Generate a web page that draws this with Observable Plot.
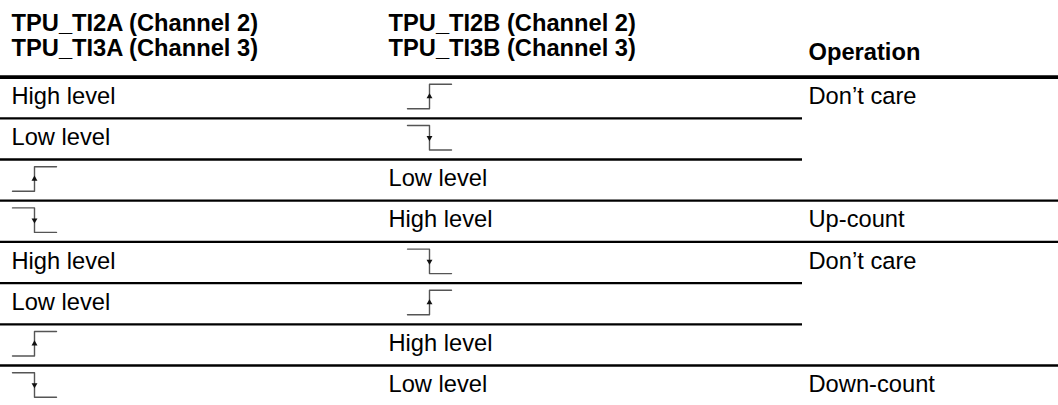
<!DOCTYPE html>
<html><head><meta charset="utf-8">
<script src="https://cdn.jsdelivr.net/npm/d3@7"></script>
<script src="https://cdn.jsdelivr.net/npm/@observablehq/plot@0.6"></script>
<style>body{margin:0;background:#fff}</style>
</head><body><div id="chart"></div>
<script>
// ---- data ----
const headerLine1 = ["TPU_TI2A (Channel 2)", "TPU_TI2B (Channel 2)"];
const headerLine2 = ["TPU_TI3A (Channel 3)", "TPU_TI3B (Channel 3)"];
const operationHeader = ["Operation"];
const inputA = ["High level", "Low level", "rising", "falling", "High level", "Low level", "rising", "falling"];
const inputB = ["rising", "falling", "Low level", "High level", "falling", "rising", "High level", "Low level"];
const operationLabels = ["Don\u2019t care", "Up-count", "Don\u2019t care", "Down-count"];
const operationSpans = [3, 1, 3, 1];

// ---- layout ----
const W = 1058, H = 405;
const colX = [11, 388, 808];
const symX = [12, 407];
const headRuleY = 76.6, rowH = 41.2, splitX = 802;
const rowTop = i => headRuleY + rowH * i;
const rowBottom = i => rowTop(i) + rowH;

const cells = [];
inputA.forEach((v, i) => { cells.push({row: i, col: 0, v}); cells.push({row: i, col: 1, v: inputB[i]}); });
const textCells = cells.filter(c => c.v !== "rising" && c.v !== "falling");
const edgeCells = cells.filter(c => c.v === "rising" || c.v === "falling");

const edgePts = [];
const arrows = [];
edgeCells.forEach((c, k) => {
  const x0 = symX[c.col], xm = x0 + 22, x1 = x0 + 44;
  const yHi = rowBottom(c.row) - 34, yLo = rowBottom(c.row) - 9.5;
  const [ya, yb] = c.v === "rising" ? [yLo, yHi] : [yHi, yLo];
  edgePts.push({k, x: x0, y: ya}, {k, x: xm, y: ya}, {k, x: xm, y: yb}, {k, x: x1, y: yb});
  arrows.push({x: xm, y: (yHi + yLo) / 2, rot: c.v === "rising" ? 0 : 180});
});

// operation groups
const opCells = [];
const rowRules = [];
let start = 0;
operationSpans.forEach((n, g) => {
  opCells.push({row: start, text: operationLabels[g]});
  for (let r = start; r < start + n; r++) {
    const last = r === start + n - 1;
    rowRules.push({y: rowBottom(r), x2: last ? W : splitX});
  }
  start += n;
});

const header = [
  ...headerLine1.map((t, c) => ({x: colX[c], y: 30, t})),
  ...headerLine2.map((t, c) => ({x: colX[c], y: 55, t})),
  ...operationHeader.map(t => ({x: colX[2], y: 59, t}))
];

const chart = Plot.plot({
  width: W, height: H, margin: 0,
  x: {domain: [0, W], range: [0, W], axis: null},
  y: {domain: [0, H], range: [0, H], axis: null},
  style: {fontFamily: "'Liberation Sans', Arial, Helvetica, sans-serif", background: "#fff", overflow: "visible"},
  marks: [
    Plot.text(header, {x: "x", y: "y", text: "t", textAnchor: "start", lineAnchor: "bottom", fontSize: 23.7, fontWeight: "bold", fill: "#000"}),
    Plot.ruleY([headRuleY], {x1: 0, x2: W, stroke: "#000", strokeWidth: 3.8}),
    Plot.ruleY(rowRules, {y: "y", x1: 0, x2: "x2", stroke: "#000", strokeWidth: 2.3}),
    Plot.text(textCells, {x: d => colX[d.col], y: d => rowBottom(d.row) - 14.5, text: "v", textAnchor: "start", lineAnchor: "bottom", fontSize: 23.7, fill: "#000"}),
    Plot.text(opCells, {x: colX[2], y: d => rowBottom(d.row) - 14.5, text: "text", textAnchor: "start", lineAnchor: "bottom", fontSize: 23.7, fill: "#000"}),
    Plot.line(edgePts, {x: "x", y: "y", z: "k", stroke: "#555", strokeWidth: 1.4, curve: "linear"}),
    Plot.dot(arrows, {x: "x", y: "y", rotate: "rot", symbol: "triangle", r: 2.2, fill: "#111", stroke: "none"})
  ]
});
document.getElementById("chart").append(chart);
</script>
</body></html>
